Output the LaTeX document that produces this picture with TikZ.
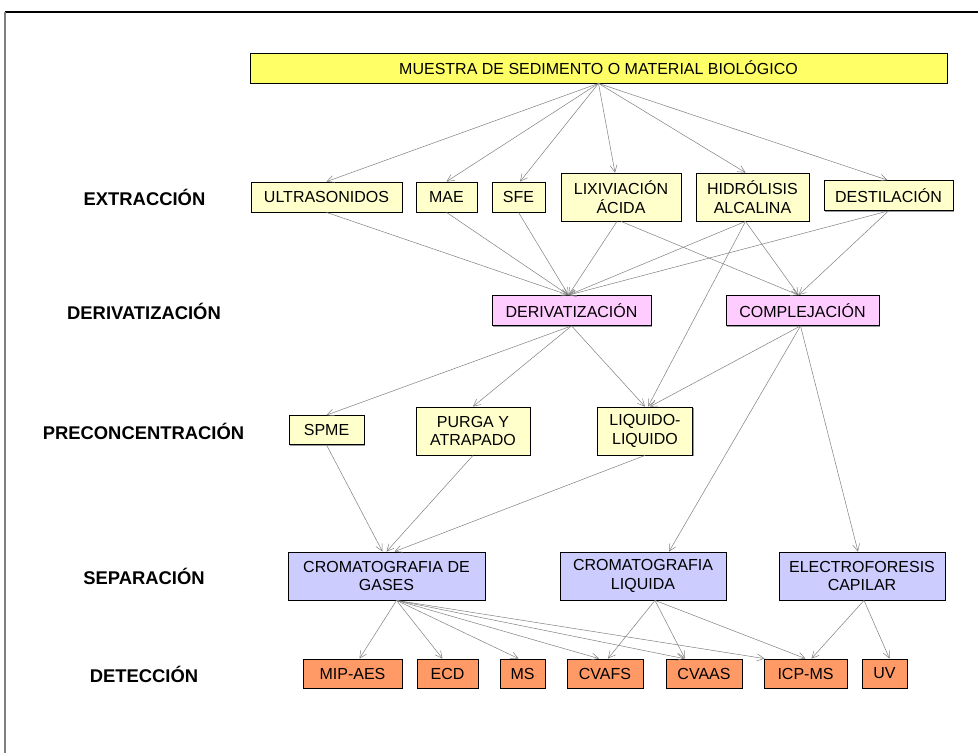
\documentclass[tikz,border=0pt]{standalone}
\usepackage{fontspec}
\setmainfont{Liberation Sans}
\usetikzlibrary{arrows.meta,shadows}
\definecolor{cMu}{RGB}{255,255,102}
\definecolor{cEx}{RGB}{255,255,204}
\definecolor{cDe}{RGB}{255,204,255}
\definecolor{cSe}{RGB}{204,204,255}
\definecolor{cDt}{RGB}{255,153,102}
\definecolor{cLn}{RGB}{128,128,128}
\newcommand\bxfont{\fontsize{16}{18.5}\selectfont}
\newcommand\lbfont{\bfseries\fontsize{18.4}{20}\selectfont}
\tikzset{
  box/.style={draw=black,line width=0.8pt,inner sep=0pt,align=center,font=\bxfont,
    drop shadow={shadow xshift=1.3pt,shadow yshift=-1.3pt,fill=black!40,opacity=1}},
  sz/.style 2 args={minimum width=#1pt,minimum height=#2pt},
  lbl/.style={font=\lbfont,inner sep=0pt},
  conn/.style={draw=cLn,line width=0.5pt,-{Straight Barb[length=7pt,width=7pt]}}
}
\begin{document}
\begin{tikzpicture}[x=1pt,y=-1pt]
\useasboundingbox (0,0) rectangle (978,753);
\fill[white] (0,0) rectangle (978,753);
\draw[black,line width=1.2pt] (5,12) -- (978,12);
\draw[cLn,line width=1.2pt] (5,12) -- (5,753);

% row labels
\node[lbl] (lex) at (144.5,197) {EXTRACCIÓN};
\node[lbl] (lde) at (144,311) {DERIVATIZACIÓN};
\node[lbl] (lpr) at (143.5,431) {PRECONCENTRACIÓN};
\node[lbl] (lse) at (144,576) {SEPARACIÓN};
\node[lbl] (ldt) at (144,674) {DETECCIÓN};

% top
\node[box,fill=cMu,sz={697}{30}] (mu) at (598.5,68) {MUESTRA DE SEDIMENTO O MATERIAL BIOLÓGICO};
% extraction
\node[box,fill=cEx,sz={151}{30}] (ul) at (326.5,197) {ULTRASONIDOS};
\node[box,fill=cEx,sz={61}{30}] (mae) at (446.5,197) {MAE};
\node[box,fill=cEx,sz={53}{30}] (sfe) at (518.5,197) {SFE};
\node[box,fill=cEx,sz={120}{48}] (lix) at (621,197) {LIXIVIACIÓN\\ÁCIDA};
\node[box,fill=cEx,sz={113}{48}] (hid) at (752.5,197) {HIDRÓLISIS\\ALCALINA};
\node[box,fill=cEx,sz={129}{30}] (des) at (888.5,195.5) {DESTILACIÓN};
% derivatization
\node[box,fill=cDe,sz={159}{30}] (der) at (571.5,310.5) {DERIVATIZACIÓN};
\node[box,fill=cDe,sz={153}{30}] (com) at (802.5,310.5) {COMPLEJACIÓN};
% preconcentration
\node[box,fill=cEx,sz={75}{29}] (spme) at (326.5,430) {SPME};
\node[box,fill=cEx,sz={114}{48}] (pur) at (473,431) {PURGA Y\\ATRAPADO};
\node[box,fill=cEx,sz={95}{48}] (liq) at (645,431) {LIQUIDO-\\LIQUIDO};
% separation
\node[box,fill=cSe,sz={197}{48}] (cg) at (386.5,576) {CROMATOGRAFIA DE\\GASES};
\node[box,fill=cSe,sz={166}{48}] (cl) at (643,576) {CROMATOGRAFIA\\LIQUIDA};
\node[box,fill=cSe,sz={166}{48}] (ec) at (862,576) {ELECTROFORESIS\\CAPILAR};
% detection
\node[box,fill=cDt,sz={99}{29}] (mip) at (352.5,673.5) {MIP-AES};
\node[box,fill=cDt,sz={61}{29}] (ecd) at (447.5,673.5) {ECD};
\node[box,fill=cDt,sz={45}{29}] (ms) at (522.5,673.5) {MS};
\node[box,fill=cDt,sz={76}{29}] (cvafs) at (605,673.5) {CVAFS};
\node[box,fill=cDt,sz={76}{29}] (cvaas) at (704,673.5) {CVAAS};
\node[box,fill=cDt,sz={83}{29}] (icp) at (805.5,673.5) {ICP-MS};
\node[box,fill=cDt,sz={45}{29}] (uv) at (884.5,673.5) {UV};

% muestra -> extraction
\draw[conn] (mu.south) -- (ul.north);
\draw[conn] (mu.south) -- (mae.north);
\draw[conn] (mu.south) -- ([xshift=1.5pt]sfe.north);
\draw[conn] (mu.south) -- ([xshift=-6pt]lix.north);
\draw[conn] (mu.south) -- ([xshift=-7pt]hid.north);
\draw[conn] (mu.south) -- ([xshift=-1pt]des.north);
% extraction -> derivatization
\draw[conn] (ul.south) -- ([xshift=-3pt]der.north);
\draw[conn] (mae.south) -- ([xshift=-3pt]der.north);
\draw[conn] (sfe.south) -- ([xshift=-3pt]der.north);
\draw[conn] ([xshift=-4pt]lix.south) -- ([xshift=-3pt]der.north);
\draw[conn] ([xshift=-7pt]hid.south) -- ([xshift=-3pt]der.north);
\draw[conn] (des.south) -- ([xshift=-3pt]der.north);
\draw[conn] (lix.south) -- ([xshift=-4pt]com.north);
\draw[conn] ([xshift=-7pt]hid.south) -- ([xshift=-4pt]com.north);
\draw[conn] (des.south) -- ([xshift=-4pt]com.north);
\draw[conn] ([xshift=-7pt]hid.south) -- ([xshift=3pt]liq.north);
% derivatization -> preconcentration / separation
\draw[conn] (der.south) -- (spme.north);
\draw[conn] (der.south) -- (pur.north);
\draw[conn] (der.south) -- (liq.north);
\draw[conn] ([xshift=-2pt]com.south) -- ([xshift=5pt]liq.north);
\draw[conn] ([xshift=-2pt]com.south) -- ([xshift=26pt]cl.north);
\draw[conn] ([xshift=-2pt]com.south) -- ([xshift=-4pt]ec.north);
% preconcentration -> separation
\draw[conn] (spme.south) -- ([xshift=-4pt]cg.north);
\draw[conn] (pur.south) -- (cg.north);
\draw[conn] (liq.south) -- ([xshift=8pt]cg.north);
% separation -> detection
\draw[conn] ([xshift=10pt]cg.south) -- ([xshift=7pt]mip.north);
\draw[conn] ([xshift=10pt]cg.south) -- ([xshift=-5pt]ecd.north);
\draw[conn] ([xshift=10pt]cg.south) -- ([xshift=-4pt]ms.north);
\draw[conn] ([xshift=10pt]cg.south) -- ([xshift=-6pt]cvafs.north);
\draw[conn] ([xshift=10pt]cg.south) -- ([xshift=-20pt]cvaas.north);
\draw[conn] ([xshift=10pt]cg.south) -- ([xshift=1pt]icp.north west);
\draw[conn] ([xshift=12pt]cl.south) -- ([xshift=3pt]cvafs.north);
\draw[conn] ([xshift=12pt]cl.south) -- ([xshift=-19pt]cvaas.north);
\draw[conn] ([xshift=12pt]cl.south) -- (icp.north);
\draw[conn] ([xshift=2pt]ec.south) -- ([xshift=6pt]icp.north);
\draw[conn] ([xshift=2pt]ec.south) -- ([xshift=5pt]uv.north);
\end{tikzpicture}
\end{document}
